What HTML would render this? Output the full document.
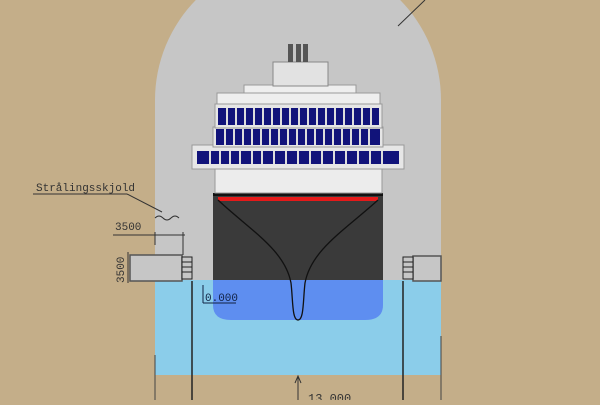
<!DOCTYPE html>
<html><head><style>
body{margin:0;width:600px;height:400px;overflow:hidden;background:#c4ae89;}
</style></head><body>
<svg width="600" height="400" viewBox="0 0 600 400" xmlns="http://www.w3.org/2000/svg" font-family="Liberation Mono, monospace">
<rect width="600" height="400" fill="#c4ae89"/>
<!-- tunnel -->
<path d="M155 375 L155 100 A143 143 0 0 1 441 100 L441 375 Z" fill="#c6c6c6"/>
<!-- water -->
<rect x="155" y="280" width="286" height="95" fill="#8bcdea"/>
<!-- ledges -->
<rect x="130" y="255" width="52" height="26" fill="#c6c6c6" stroke="#555" stroke-width="1.5"/>
<rect x="182" y="257" width="10" height="22" fill="#c6c6c6" stroke="#222" stroke-width="1"/>
<g stroke="#222" stroke-width="1"><line x1="182" y1="262" x2="192" y2="262"/><line x1="182" y1="267" x2="192" y2="267"/><line x1="182" y1="272" x2="192" y2="272"/></g>
<rect x="413" y="256" width="28" height="25" fill="#c6c6c6" stroke="#555" stroke-width="1.5"/>
<rect x="403" y="257" width="10" height="22" fill="#c6c6c6" stroke="#222" stroke-width="1"/>
<g stroke="#222" stroke-width="1"><line x1="403" y1="262" x2="413" y2="262"/><line x1="403" y1="267" x2="413" y2="267"/><line x1="403" y1="272" x2="413" y2="272"/></g>
<!-- vertical lines -->
<line x1="192" y1="281" x2="192" y2="400" stroke="#222" stroke-width="1.5"/>
<line x1="403" y1="281" x2="403" y2="400" stroke="#222" stroke-width="1.5"/>
<line x1="155" y1="355" x2="155" y2="400" stroke="#444"/>
<line x1="441" y1="336" x2="441" y2="400" stroke="#444"/>
<line x1="298" y1="376" x2="298" y2="400" stroke="#333"/>
<path d="M295 383 L298 376 L301 383" fill="none" stroke="#333"/>
<text x="308" y="402" font-size="12" fill="#333">13.000</text>
<!-- dims left -->
<text x="36" y="191" font-size="11" fill="#333">Strålingsskjold</text>
<line x1="33" y1="194" x2="127" y2="194" stroke="#333"/>
<line x1="127" y1="194" x2="162" y2="212" stroke="#333"/>
<path d="M155 218 q4 -4 8 0 q4 4 8 0 q4 -4 8 0" fill="none" stroke="#333"/>
<text x="115" y="230" font-size="11" fill="#333">3500</text>
<line x1="113" y1="235" x2="185" y2="235" stroke="#333"/>
<line x1="155" y1="232" x2="155" y2="245" stroke="#333"/>
<line x1="183" y1="232" x2="183" y2="255" stroke="#333"/>
<text x="0" y="0" font-size="11" fill="#333" transform="translate(124,283) rotate(-90)">3500</text>
<line x1="128" y1="252" x2="128" y2="283" stroke="#333"/>
<!-- top right arrow -->
<line x1="398" y1="26" x2="425" y2="0" stroke="#333"/>
<!-- hull -->
<rect x="213" y="193" width="170" height="88" fill="#3a3a3a"/>
<rect x="213" y="193" width="170" height="3" fill="#111"/>
<rect x="218" y="197" width="160" height="4" fill="#e41a1a"/>
<path d="M213 280 L383 280 L383 305 Q383 320 365 320 L231 320 Q213 320 213 305 Z" fill="#5e8ef0"/>
<path d="M218 200 C250 230 285 250 291 283 C293 300 292 320 298 320 C304 320 303 300 305 283 C311 250 345 230 378 200" fill="none" stroke="#111" stroke-width="1.3"/>
<text x="205" y="301" font-size="11" fill="#124">0.000</text>
<line x1="203" y1="285" x2="203" y2="303" stroke="#124"/>
<line x1="203" y1="303" x2="236" y2="303" stroke="#124"/>
<!-- superstructure -->
<rect x="215" y="168" width="167" height="25" fill="#ececec" stroke="#999"/>
<rect x="192" y="145" width="212" height="24" fill="#e6e6e6" stroke="#999"/>
<rect x="197" y="151" width="202" height="13" fill="#11137a"/>
<rect x="213" y="127" width="170" height="20" fill="#e6e6e6" stroke="#999"/>
<rect x="216" y="129" width="164" height="16" fill="#11137a"/>
<rect x="215" y="104" width="167" height="24" fill="#e6e6e6" stroke="#999"/>
<rect x="218" y="108" width="161" height="17" fill="#11137a"/>
<g stroke="#dcdcdc" stroke-width="2">
<path d="M227 108V125M236 108V125M245 108V125M254 108V125M263 108V125M272 108V125M281 108V125M290 108V125M299 108V125M308 108V125M317 108V125M326 108V125M335 108V125M344 108V125M353 108V125M362 108V125M371 108V125"/>
<path d="M225 129V145M234 129V145M243 129V145M252 129V145M261 129V145M270 129V145M279 129V145M288 129V145M297 129V145M306 129V145M315 129V145M324 129V145M333 129V145M342 129V145M351 129V145M360 129V145M369 129V145"/>
<path d="M210 151V164M220 151V164M230 151V164M240 151V164M252 151V164M262 151V164M274 151V164M286 151V164M298 151V164M310 151V164M322 151V164M334 151V164M346 151V164M358 151V164M370 151V164M382 151V164"/>
</g>
<rect x="217" y="93" width="163" height="11" fill="#eee" stroke="#999"/>
<rect x="244" y="85" width="112" height="8" fill="#eee" stroke="#999"/>
<rect x="273" y="62" width="55" height="24" fill="#e2e2e2" stroke="#888"/>
<rect x="288" y="44" width="5" height="18" fill="#555"/>
<rect x="296" y="44" width="5" height="18" fill="#555"/>
<rect x="303" y="44" width="5" height="18" fill="#555"/>
</svg>
</body></html>
